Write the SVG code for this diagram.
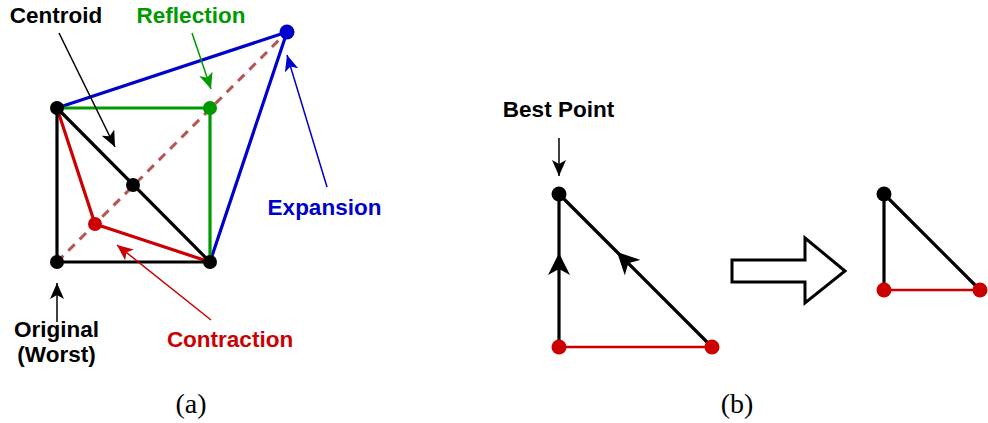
<svg xmlns="http://www.w3.org/2000/svg" width="988" height="423" viewBox="0 0 988 423">
<style>
.lbl{font-family:"Liberation Sans",Arial,sans-serif;font-weight:bold;font-size:22.5px;text-anchor:middle}
.cap{font-family:"Liberation Serif","Times New Roman",serif;font-size:28px;text-anchor:middle;fill:#000}
.edge{fill:none;stroke-width:3.2;stroke-linecap:round;stroke-linejoin:round}
.ptr{fill:none;stroke-width:1.5}
</style>
<defs>
<marker id="ak" viewBox="0 0 16 14" refX="16" refY="7" markerWidth="16" markerHeight="14" markerUnits="userSpaceOnUse" orient="auto"><path d="M0,0 L16,7 L0,14 L4,7 z" fill="#000"/></marker>
<marker id="ag" viewBox="0 0 16 14" refX="16" refY="7" markerWidth="16" markerHeight="14" markerUnits="userSpaceOnUse" orient="auto"><path d="M0,0 L16,7 L0,14 L4,7 z" fill="#009900"/></marker>
<marker id="ab" viewBox="0 0 16 14" refX="16" refY="7" markerWidth="16" markerHeight="14" markerUnits="userSpaceOnUse" orient="auto"><path d="M0,0 L16,7 L0,14 L4,7 z" fill="#0000CC"/></marker>
<marker id="ar" viewBox="0 0 16 14" refX="16" refY="7" markerWidth="16" markerHeight="14" markerUnits="userSpaceOnUse" orient="auto"><path d="M0,0 L16,7 L0,14 L4,7 z" fill="#CC0000"/></marker>
<marker id="am" viewBox="0 0 22 22" refX="22" refY="11" markerWidth="22" markerHeight="22" markerUnits="userSpaceOnUse" orient="auto"><path d="M0,0 L22,11 L0,22 L6,11 z" fill="#000"/></marker>
</defs>
<rect width="988" height="423" fill="#fff"/>
<g id="connectors">
<line x1="57" y1="262" x2="287" y2="32" stroke="#b85450" stroke-width="3" stroke-dasharray="9 7"/>
<polyline class="edge" stroke="#0000CC" points="57,108 287,32 210,262"/>
<polyline class="edge" stroke="#009900" points="57,108 210,108 210,262"/>
<polyline class="edge" stroke="#CC0000" points="57,108 95,224 210,262"/>
<polygon class="edge" stroke="#000" points="57,108 57,262 210,262"/>
<line class="ptr" stroke="#000" x1="59" y1="33" x2="115" y2="147" marker-end="url(#ak)"/>
<line class="ptr" stroke="#009900" x1="192" y1="33" x2="211" y2="89" marker-end="url(#ag)"/>
<line class="ptr" stroke="#0000CC" x1="327" y1="187" x2="287" y2="55" marker-end="url(#ab)"/>
<line class="ptr" stroke="#CC0000" x1="211" y1="320" x2="117" y2="245" marker-end="url(#ar)"/>
<line class="ptr" stroke="#000" x1="57" y1="322" x2="57" y2="283" marker-end="url(#ak)"/>
<line class="ptr" stroke="#000" x1="559" y1="138" x2="559" y2="176" marker-end="url(#ak)"/>
<line stroke="#CC0000" stroke-width="2.5" x1="559" y1="347" x2="712" y2="347"/>
<polyline class="edge" stroke="#000" points="559,347 559,253 559,194" marker-mid="url(#am)"/>
<polyline class="edge" stroke="#000" points="712,347 617,252 559,194" marker-mid="url(#am)"/>
<polygon fill="#fff" stroke="#000" stroke-width="3" points="732,260 805,260 805,238 845,271 805,303 805,282 732,282"/>
<line stroke="#CC0000" stroke-width="2.5" x1="884" y1="290" x2="980" y2="290"/>
<polyline class="edge" stroke="#000" points="884,290 884,194 980,290"/>
</g>
<g id="nodes">
<circle id="p-topleft" cx="57" cy="108" r="7" fill="#000"/>
<circle id="p-worst" cx="57" cy="262" r="7" fill="#000"/>
<circle id="p-bottomright" cx="210" cy="262" r="7" fill="#000"/>
<circle id="p-centroid" cx="133" cy="185" r="7" fill="#000"/>
<circle id="p-reflection" cx="210" cy="108" r="7" fill="#009900"/>
<circle id="p-expansion" cx="287" cy="32" r="7.5" fill="#0000CC"/>
<circle id="p-contraction" cx="95" cy="224" r="7" fill="#CC0000"/>
<circle id="b-top" cx="559" cy="194" r="7.5" fill="#000"/>
<circle id="b-left" cx="559" cy="347" r="7.5" fill="#CC0000"/>
<circle id="b-right" cx="712" cy="347" r="7.5" fill="#CC0000"/>
<circle id="c-top" cx="884" cy="194" r="7.5" fill="#000"/>
<circle id="c-left" cx="884" cy="290" r="7.5" fill="#CC0000"/>
<circle id="c-right" cx="980" cy="290" r="7.5" fill="#CC0000"/>
</g>
<g id="labels">
<text class="lbl" x="56" y="23" fill="#000">Centroid</text>
<text class="lbl" x="191" y="23" fill="#009900">Reflection</text>
<text class="lbl" x="324.5" y="215" fill="#0000CC">Expansion</text>
<text class="lbl" x="230" y="347" fill="#CC0000">Contraction</text>
<text class="lbl" x="56.5" y="337" fill="#000">Original</text>
<text class="lbl" x="56.5" y="362" fill="#000">(Worst)</text>
<text class="lbl" x="558.5" y="117" fill="#000">Best Point</text>
<text class="cap" x="191" y="413">(a)</text>
<text class="cap" x="737" y="413">(b)</text>
</g>
</svg>
